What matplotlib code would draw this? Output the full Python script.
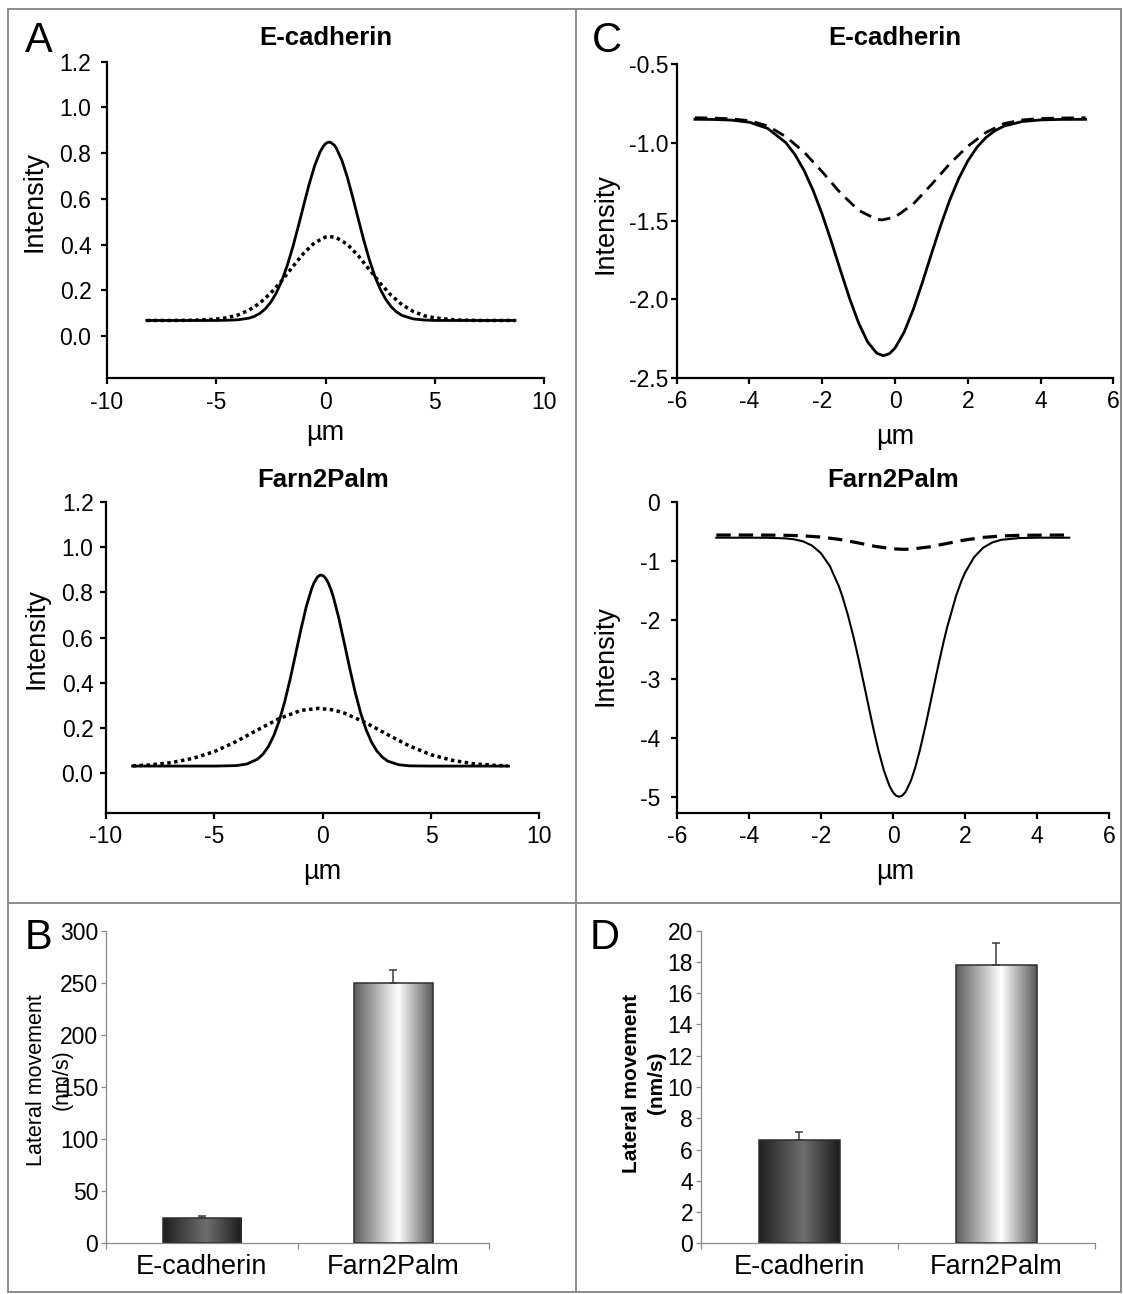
import numpy as np
import matplotlib
matplotlib.use("Agg")
import matplotlib.pyplot as plt
from matplotlib.colors import LinearSegmentedColormap
from matplotlib.lines import Line2D
from matplotlib.patches import Rectangle
from matplotlib.ticker import FormatStrFormatter

plt.rcParams['font.family'] = ['Liberation Sans', 'DejaVu Sans']
plt.rcParams['axes.unicode_minus'] = False

# ---------------- data ----------------
# Panel A, E-cadherin intensity profiles (µm vs intensity)
ecad_a_solid_x = [-8.17, -7, -6, -5, -4.5, -4, -3.5, -3.25, -3, -2.75, -2.5, -2.25, -2, -1.75,
                  -1.5, -1.25, -1, -0.75, -0.5, -0.25, -0.1, 0, 0.1, 0.17, 0.25, 0.4, 0.5, 0.75,
                  1, 1.25, 1.5, 1.75, 2, 2.25, 2.5, 2.75, 3, 3.25, 3.5, 4, 4.5, 5, 6, 7, 8.66]
ecad_a_solid_y = [0.068, 0.068, 0.068, 0.068, 0.069, 0.071, 0.078, 0.086, 0.099, 0.119, 0.148,
                  0.188, 0.241, 0.308, 0.387, 0.477, 0.571, 0.663, 0.744, 0.805, 0.830, 0.841,
                  0.847, 0.848, 0.846, 0.835, 0.821, 0.768, 0.694, 0.605, 0.511, 0.419, 0.335,
                  0.263, 0.205, 0.161, 0.128, 0.105, 0.090, 0.075, 0.070, 0.068, 0.068, 0.068,
                  0.068]
ecad_a_dot_x = [-8.17, -7, -6, -5, -4.5, -4, -3.5, -3, -2.5, -2, -1.5, -1, -0.5, 0, 0.2, 0.5,
                1, 1.5, 2, 2.5, 3, 3.5, 4, 4.5, 5, 6, 7, 8.66]
ecad_a_dot_y = [0.068, 0.068, 0.069, 0.074, 0.080, 0.092, 0.113, 0.144, 0.188, 0.242, 0.303,
                0.362, 0.408, 0.433, 0.435, 0.430, 0.401, 0.351, 0.291, 0.231, 0.178, 0.137,
                0.108, 0.089, 0.079, 0.070, 0.068, 0.068]

# Panel A, Farn2Palm intensity profiles
farn_a_solid_x = [-8.77, -7, -6, -5, -4, -3.5, -3, -2.75, -2.5, -2.25, -2, -1.75, -1.5, -1.25,
                  -1, -0.75, -0.5, -0.4, -0.25, -0.15, -0.07, 0.05, 0.15, 0.25, 0.375, 0.5, 0.75,
                  1, 1.25, 1.5, 1.75, 2, 2.25, 2.5, 2.75, 3, 3.5, 4, 5, 6, 7, 8.58]
farn_a_solid_y = [0.032, 0.032, 0.032, 0.032, 0.034, 0.041, 0.063, 0.085, 0.119, 0.168, 0.233,
                  0.317, 0.416, 0.526, 0.637, 0.739, 0.818, 0.841, 0.866, 0.874, 0.876, 0.871,
                  0.860, 0.843, 0.814, 0.777, 0.684, 0.575, 0.464, 0.359, 0.268, 0.194, 0.139,
                  0.099, 0.072, 0.054, 0.038, 0.033, 0.032, 0.032, 0.032, 0.032]
farn_a_dot_x = [-8.77, -8, -7, -6, -5, -4, -3, -2, -1, -0.2, 0.5, 1, 2, 3, 4, 5, 6, 7, 8, 8.54]
farn_a_dot_y = [0.033, 0.037, 0.047, 0.066, 0.096, 0.140, 0.192, 0.242, 0.278, 0.287, 0.280,
                0.266, 0.223, 0.171, 0.121, 0.082, 0.057, 0.042, 0.035, 0.033]

# Panel C, E-cadherin profiles
ecad_c_solid_x = [-5.5, -5, -4.5, -4, -3.5, -3, -2.75, -2.5, -2.25, -2, -1.75, -1.5, -1.25, -1,
                  -0.75, -0.5, -0.32, -0.15, 0, 0.25, 0.5, 0.75, 1, 1.25, 1.5, 1.75, 2, 2.25,
                  2.5, 2.75, 3, 3.5, 4, 4.5, 5.24]
ecad_c_solid_y = [-0.851, -0.852, -0.856, -0.870, -0.909, -1.000, -1.076, -1.177, -1.305, -1.458,
                  -1.631, -1.814, -1.993, -2.151, -2.273, -2.344, -2.360, -2.346, -2.311, -2.210,
                  -2.066, -1.894, -1.711, -1.532, -1.369, -1.230, -1.117, -1.030, -0.967, -0.923,
                  -0.894, -0.865, -0.855, -0.852, -0.851]
ecad_c_dash_x = [-5.5, -5, -4.5, -4, -3.5, -3, -2.5, -2, -1.5, -1, -0.5, -0.35, 0, 0.5, 1, 1.5,
                 2, 2.5, 3, 3.5, 4, 4.5, 5.24]
ecad_c_dash_y = [-0.841, -0.843, -0.848, -0.860, -0.893, -0.962, -1.060, -1.186, -1.321, -1.432,
                 -1.490, -1.493, -1.475, -1.392, -1.268, -1.136, -1.023, -0.935, -0.878, -0.855,
                 -0.846, -0.843, -0.841]

# Panel C, Farn2Palm profiles
farn_c_solid_x = [-4.9, -4, -3.5, -3, -2.75, -2.5, -2.25, -2, -1.75, -1.5, -1.4, -1.25, -1.1, -1,
                  -0.9, -0.75, -0.6, -0.5, -0.4, -0.25, -0.1, 0, 0.08, 0.17, 0.26, 0.35, 0.5,
                  0.62, 0.75, 0.9, 1, 1.1, 1.25, 1.4, 1.5, 1.75, 1.9, 2, 2.25, 2.5, 2.75, 3,
                  3.5, 4, 4.89]
farn_c_solid_y = [-0.610, -0.610, -0.611, -0.621, -0.637, -0.671, -0.742, -0.872, -1.093, -1.436,
                  -1.614, -1.923, -2.281, -2.544, -2.822, -3.255, -3.688, -3.965, -4.224, -4.560,
                  -4.813, -4.924, -4.979, -5.000, -4.979, -4.916, -4.723, -4.499, -4.199, -3.801,
                  -3.516, -3.226, -2.794, -2.384, -2.132, -1.595, -1.341, -1.201, -0.939, -0.780,
                  -0.692, -0.646, -0.616, -0.610, -0.610]
farn_c_dash_x = [-4.9, -4, -3.5, -3, -2.5, -2, -1.5, -1, -0.5, 0, 0.3, 0.5, 1, 1.5, 2, 2.5, 3,
                 3.5, 4, 4.89]
farn_c_dash_y = [-0.565, -0.565, -0.566, -0.569, -0.578, -0.599, -0.638, -0.694, -0.756, -0.799,
                 -0.807, -0.803, -0.767, -0.707, -0.648, -0.605, -0.581, -0.570, -0.567, -0.565]

# Panels B and D, lateral movement (nm/s)
categories = ["E-cadherin", "Farn2Palm"]
b_means = [24.6, 250.0]
b_errs = [1.6, 12.5]
d_means = [6.6, 17.8]
d_errs = [0.5, 1.4]

# ---------------- figure ----------------
W, H = 1123, 1294
fig = plt.figure(figsize=(W / 100, H / 100), dpi=100)


def axes_px(x0, x1, ytop, ybot):
    return fig.add_axes([x0 / W, 1 - ybot / H, (x1 - x0) / W, (ybot - ytop) / H])


def ftext(x, y, s, **kw):
    kw.setdefault('ha', 'center')
    kw.setdefault('va', 'center')
    return fig.text(x / W, 1 - y / H, s, **kw)


def profile_axes(box, xlim, ylim, xticks, yticks, yfmt, ypad, title, tpad):
    ax = axes_px(*box)
    ax.set_xlim(*xlim)
    ax.set_ylim(*ylim)
    ax.set_xticks(xticks)
    ax.set_yticks(yticks)
    ax.yaxis.set_major_formatter(FormatStrFormatter(yfmt))
    for s in ('top', 'right'):
        ax.spines[s].set_visible(False)
    for s in ('left', 'bottom'):
        ax.spines[s].set_linewidth(1.6)
        ax.spines[s].set_color('black')
    ax.tick_params(axis='both', direction='out', length=4, width=1.6, labelsize=16.5,
                   colors='black')
    ax.tick_params(axis='x', pad=5)
    ax.tick_params(axis='y', pad=ypad)
    ax.set_title(title, fontsize=18.5, fontweight='bold', pad=tpad)
    ax.patch.set_alpha(0)
    return ax


def place_labels(ax, box, xlab_xy, ylab_xy):
    x0, x1, ytop, ybot = box
    ax.set_xlabel('µm', fontsize=19.5)
    ax.xaxis.set_label_coords((xlab_xy[0] - x0) / (x1 - x0), (ybot - xlab_xy[1]) / (ybot - ytop))
    ax.xaxis.label.set_va('center')
    ax.set_ylabel('Intensity', fontsize=19.5)
    ax.yaxis.set_label_coords((ylab_xy[0] - x0) / (x1 - x0), (ybot - ylab_xy[1]) / (ybot - ytop))
    ax.yaxis.label.set_va('center')
    ax.yaxis.label.set_ha('center')


dots = (0, (1.0, 1.0))
dashes = (0, (4.5, 2.7))

# Panel A top
box = (106.7, 544.3, 61.7, 378.3)
ax = profile_axes(box, (-10, 10), (-0.185, 1.2), [-10, -5, 0, 5, 10],
                  [0, 0.2, 0.4, 0.6, 0.8, 1.0, 1.2], '%.1f', 7, 'E-cadherin', 12)
ax.plot(ecad_a_solid_x, ecad_a_solid_y, color='black', lw=2.0, solid_joinstyle='round')
ax.plot(ecad_a_dot_x, ecad_a_dot_y, color='black', lw=2.5, linestyle=dots, dash_capstyle='butt')
place_labels(ax, box, (325, 433), (35, 201.7))

# Panel A bottom
box = (106.0, 539.3, 501.7, 812.7)
ax = profile_axes(box, (-10, 10), (-0.174, 1.2), [-10, -5, 0, 5, 10],
                  [0, 0.2, 0.4, 0.6, 0.8, 1.0, 1.2], '%.1f', 5, 'Farn2Palm', 10.8)
ax.plot(farn_a_solid_x, farn_a_solid_y, color='black', lw=2.0, solid_joinstyle='round')
ax.plot(farn_a_dot_x, farn_a_dot_y, color='black', lw=2.5, linestyle=dots, dash_capstyle='butt')
place_labels(ax, box, (322, 871.7), (37, 638.3))

# Panel C top
box = (676.7, 1113.3, 64.3, 377.7)
ax = profile_axes(box, (-6, 6), (-2.5, -0.5), [-6, -4, -2, 0, 2, 4, 6],
                  [-2.5, -2.0, -1.5, -1.0, -0.5], '%.1f', 2, 'E-cadherin', 13.9)
ax.plot(ecad_c_solid_x, ecad_c_solid_y, color='black', lw=2.0, solid_joinstyle='round')
ax.plot(ecad_c_dash_x, ecad_c_dash_y, color='black', lw=2.0, linestyle=dashes)
place_labels(ax, box, (895, 436.7), (605.4, 224))

# Panel C bottom
box = (676.7, 1109.3, 501.7, 812.7)
ax = profile_axes(box, (-6, 6), (-5.27, 0), [-6, -4, -2, 0, 2, 4, 6],
                  [-5, -4, -3, -2, -1, 0], '%d', 8, 'Farn2Palm', 10.8)
ax.plot(farn_c_solid_x, farn_c_solid_y, color='black', lw=1.5, solid_joinstyle='round')
ax.plot(farn_c_dash_x, farn_c_dash_y, color='black', lw=2.3, linestyle=(0, (4.5, 2.5)))
place_labels(ax, box, (894.8, 871.7), (605.4, 655.8))

# ---------------- bar panels ----------------
ecad_cmap = LinearSegmentedColormap.from_list(
    'ecad', [(0.0, '#1f1f1f'), (0.55, '#6e6e6e'), (1.0, '#1c1c1c')])
farn_cmap = LinearSegmentedColormap.from_list(
    'farn', [(0.0, '#5e5e5e'), (0.56, '#ffffff'), (1.0, '#585858')])


def bar_axes(box, means, errs, ylim, yticks, capsize):
    ax = axes_px(*box)
    xs = np.arange(len(categories))
    bars = ax.bar(xs, means, 0.41, facecolor='none', edgecolor='#2e2e2e', linewidth=1.1,
                  zorder=3)
    grad = np.linspace(0, 1, 256).reshape(1, -1)
    for bar, cmap in zip(bars, (ecad_cmap, farn_cmap)):
        x0, w, h = bar.get_x(), bar.get_width(), bar.get_height()
        im = ax.imshow(grad, extent=(x0, x0 + w, 0, h), aspect='auto', cmap=cmap,
                       interpolation='bilinear', zorder=2)
        im.set_clip_path(bar)
    ax.errorbar(xs, means, yerr=[np.zeros(len(means)), errs], fmt='none', ecolor='#3a3a3a',
                elinewidth=1.1, capsize=capsize, capthick=1.1, zorder=4)
    ax.set_xlim(-0.5, len(categories) - 0.5)
    ax.set_ylim(*ylim)
    ax.set_yticks(yticks)
    ax.set_xticks(xs)
    ax.set_xticklabels(categories, fontsize=19.5)
    ax.set_xticks([-0.5, 0.5, 1.5], minor=True)
    for s in ('top', 'right'):
        ax.spines[s].set_visible(False)
    for s in ('left', 'bottom'):
        ax.spines[s].set_linewidth(0.9)
        ax.spines[s].set_color('#8a8a8a')
    ax.tick_params(axis='x', which='major', length=0, pad=8, labelcolor='black')
    ax.tick_params(axis='x', which='minor', direction='out', length=4, width=0.9,
                   color='#8a8a8a')
    ax.tick_params(axis='y', direction='out', length=3.5, width=0.9, color='#8a8a8a',
                   labelsize=16.5, labelcolor='black', pad=2)
    ax.patch.set_alpha(0)
    return ax


bar_axes((106.0, 489.3, 930.7, 1243.3), b_means, b_errs, (0, 300),
         [0, 50, 100, 150, 200, 250, 300], 3.2)
ftext(49, 1080, 'Lateral movement\n(nm/s)', rotation=90, fontsize=15.5, linespacing=1.3)

bar_axes((700.7, 1095.0, 930.7, 1243.3), d_means, d_errs, (0, 20),
         list(range(0, 21, 2)), 2.6)
ftext(644, 1083, 'Lateral movement\n(nm/s)', rotation=90, fontsize=15, fontweight='bold',
      linespacing=1.35)

# ---------------- panel letters ----------------
ftext(39, 41, 'A', fontsize=30)
ftext(607, 41, 'C', fontsize=30)
ftext(38, 938, 'B', fontsize=30)
ftext(605, 938, 'D', fontsize=30)

# ---------------- panel frame ----------------
frame_c = '#8c8c8c'
fig.add_artist(Rectangle((8 / W, 1 - 1292 / H), (1121 - 8) / W, (1292 - 9) / H,
                         transform=fig.transFigure, fill=False, ec=frame_c, lw=1.4))
fig.add_artist(Line2D([576 / W, 576 / W], [1 - 9 / H, 1 - 1292 / H],
                      transform=fig.transFigure, color=frame_c, lw=1.4))
fig.add_artist(Line2D([8 / W, 1121 / W], [1 - 903 / H, 1 - 903 / H],
                      transform=fig.transFigure, color=frame_c, lw=1.4))

fig.savefig('out.png', dpi=100)
